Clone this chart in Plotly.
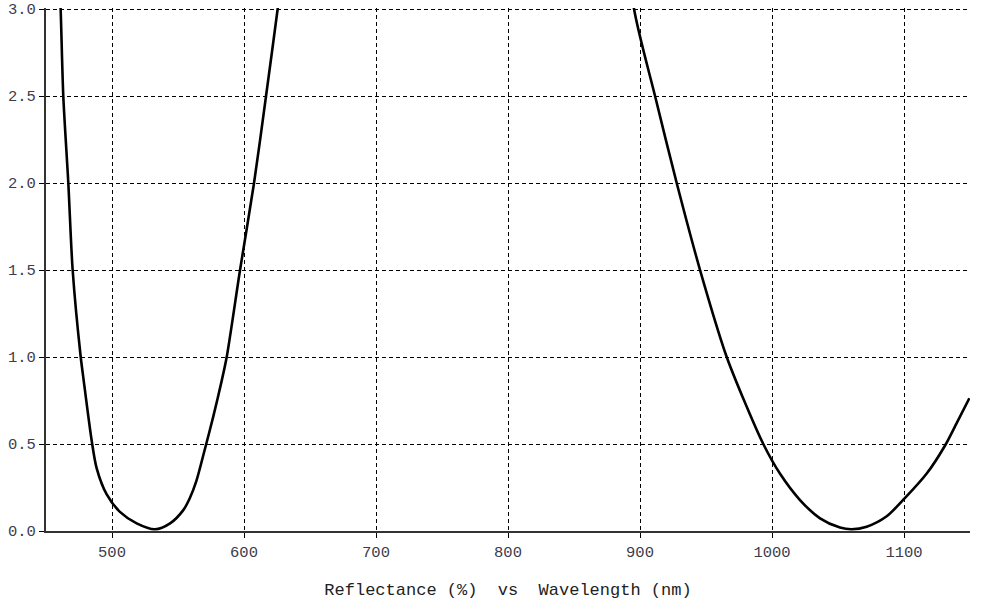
import plotly.graph_objects as go

# Wavelength (nm) and reflectance (%)
wavelength = [452, 458, 461.1, 463.1, 466.9, 470.2, 476.3, 478.3, 484.6, 488.4, 496, 506,
              518.7, 532.6, 544, 554, 559, 564, 570, 576.8, 583, 586.9, 597, 607.6, 616.7,
              625.5, 635, 660, 700, 760, 820, 860, 885,
              895.5, 911.4, 927.8, 945.5, 965.7, 978.3, 993.4, 1006, 1021.2, 1036.4,
              1051.5, 1060.4, 1071.7, 1086.9, 1100.8, 1117.2, 1131, 1139.9, 1149.5]
reflectance = [4.6, 3.6, 3.0, 2.5, 2.0, 1.5, 1.0, 0.88, 0.52, 0.36, 0.21, 0.11,
               0.044, 0.01, 0.044, 0.12, 0.19, 0.29, 0.46, 0.66, 0.86, 1.0, 1.5, 2.0, 2.5,
               3.0, 3.55, 5.0, 6.8, 7.8, 7.0, 5.2, 3.7,
               3.0, 2.5, 2.0, 1.5, 1.0, 0.76, 0.5, 0.33, 0.178, 0.073,
               0.02, 0.01, 0.025, 0.085, 0.19, 0.33, 0.49, 0.62, 0.763]

x_ticks = [500, 600, 700, 800, 900, 1000, 1100]
y_ticks = [0.0, 0.5, 1.0, 1.5, 2.0, 2.5, 3.0]
x_title = "Reflectance (%)\u00a0\u00a0vs\u00a0\u00a0Wavelength (nm)"

fig = go.Figure()
fig.add_trace(go.Scatter(
    x=wavelength, y=reflectance, mode="lines",
    line=dict(color="black", width=2.6, shape="spline", smoothing=0.8),
    hoverinfo="skip", showlegend=False, cliponaxis=True,
))

mono = "Liberation Mono, Courier New, monospace"
tick_font = dict(family=mono, size=15.5, color="#3c3c4c")

fig.update_layout(
    width=1003, height=604,
    margin=dict(l=46, r=33, t=8, b=73),
    paper_bgcolor="white", plot_bgcolor="white",
    showlegend=False,
)
fig.update_xaxes(
    range=[450, 1150], tickvals=x_ticks, ticktext=[str(v) for v in x_ticks],
    showgrid=True, gridcolor="black", gridwidth=1, griddash="4px,3px",
    showline=True, linecolor="#333333", linewidth=2,
    ticks="outside", ticklen=5, tickcolor="black", tickwidth=1,
    tickfont=tick_font, zeroline=False, automargin=False,
    title=dict(text=x_title, standoff=23,
               font=dict(family=mono, size=17, color="#222222")),
)
fig.update_yaxes(
    range=[0, 3.006], tickvals=y_ticks, ticktext=[f"{v:.1f}" for v in y_ticks],
    showgrid=True, gridcolor="black", gridwidth=1, griddash="4px,3px",
    showline=True, linecolor="#333333", linewidth=2,
    ticks="outside", ticklen=5, tickcolor="black", tickwidth=1,
    tickfont=tick_font, zeroline=False, automargin=False,
)

fig.write_html("out.html", config={"displayModeBar": False},
               post_script="document.body.style.margin='0px';document.body.style.overflow='hidden';")
